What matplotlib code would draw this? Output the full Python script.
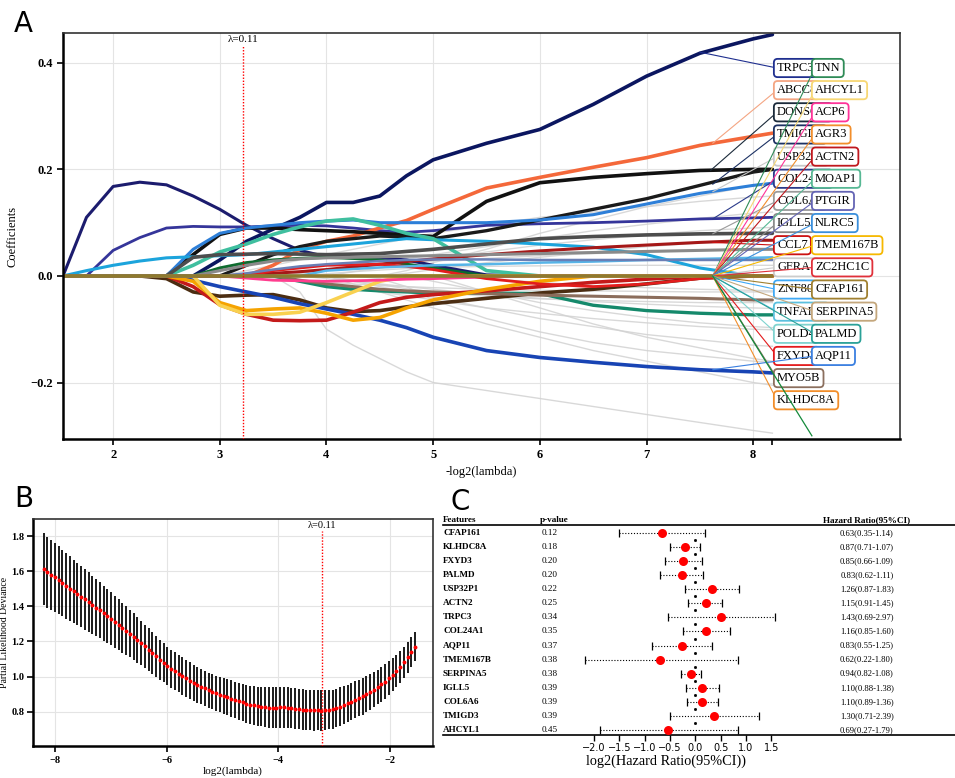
import matplotlib
matplotlib.use('Agg')
import matplotlib.pyplot as plt
import numpy as np

plt.rcParams['font.family'] = ['Liberation Serif', 'DejaVu Serif']

FIG_W, FIG_H = 955, 778

# ---------------- Panel A: LASSO coefficient paths ----------------
path_x = [1.53, 1.75, 2.0, 2.25, 2.5, 2.75, 3.0, 3.25, 3.5, 3.75, 4.0,
          4.25, 4.5, 4.75, 5.0, 5.5, 6.0, 6.5, 7.0, 7.5, 8.0, 8.18]

# faint background paths (genes without label)
path_gray = [
    [0, 0, 0, 0, 0, 0, 0, 0.010, 0.020, 0.030, 0.040, 0.050, 0.060, 0.070, 0.080, 0.095, 0.110, 0.120, 0.130, 0.140, 0.148, 0.150],
    [0, 0, 0, 0, 0, 0, 0, 0, 0, 0.005, 0.010, 0.018, 0.025, 0.032, 0.040, 0.055, 0.070, 0.085, 0.097, 0.108, 0.118, 0.120],
    [0, 0, 0, 0, 0, 0, 0, 0, 0, -0.030, -0.100, -0.130, -0.155, -0.180, -0.200, -0.215, -0.230, -0.245, -0.260, -0.275, -0.290, -0.295],
    [0, 0, 0, 0, 0, 0, 0, 0, 0, 0, 0, -0.015, -0.030, -0.045, -0.060, -0.090, -0.115, -0.140, -0.160, -0.180, -0.200, -0.205],
    [0, 0, 0, 0, 0, 0, 0, 0, 0, 0, 0, -0.010, -0.020, -0.030, -0.040, -0.060, -0.080, -0.095, -0.110, -0.120, -0.130, -0.132],
    [0, 0, 0, 0, 0, 0, 0, 0, 0, -0.008, -0.015, -0.022, -0.030, -0.037, -0.045, -0.060, -0.070, -0.080, -0.088, -0.095, -0.100, -0.101],
    [0, 0, 0, 0, 0, 0, 0, 0, 0, 0, -0.005, -0.010, -0.015, -0.020, -0.025, -0.035, -0.042, -0.048, -0.053, -0.057, -0.060, -0.061],
    [0, 0, 0, 0, 0, 0, 0, 0, -0.004, -0.008, -0.012, -0.015, -0.018, -0.020, -0.022, -0.025, -0.027, -0.028, -0.029, -0.030, -0.030, -0.030],
    [0, 0, 0, 0, 0, 0, 0, 0, 0, 0.005, 0.010, 0.015, 0.020, 0.025, 0.028, 0.033, 0.038, 0.042, 0.045, 0.048, 0.050, 0.050],
    [0, 0, 0, 0, 0, 0, 0, 0, 0, 0, 0, 0.008, 0.015, 0.022, 0.030, 0.045, 0.058, 0.068, 0.077, 0.085, 0.090, 0.091],
    [0, 0, 0, 0, 0, 0, 0, 0, 0, 0, 0, 0, 0, 0, 0, -0.030, -0.060, -0.090, -0.115, -0.135, -0.155, -0.160],
    [0, 0, 0, 0, 0, 0, 0, 0, 0, 0, 0.004, 0.008, 0.011, 0.014, 0.016, 0.018, 0.019, 0.020, 0.020, 0.020, 0.020, 0.020],
    [0, 0, 0, 0, 0, 0, 0, 0, 0, 0, 0, -0.008, -0.016, -0.024, -0.030, -0.038, -0.043, -0.046, -0.048, -0.050, -0.050, -0.050],
    [0, 0, 0, 0, 0, 0, 0, 0, 0, 0, 0, 0, 0, 0.010, 0.025, 0.050, 0.080, 0.105, 0.130, 0.150, 0.170, 0.175],
    [0, 0, 0, 0, 0, 0, 0, 0, 0, 0, 0, 0, 0, 0, -0.010, -0.030, -0.050, -0.065, -0.078, -0.088, -0.095, -0.097],
    [0, 0, 0, 0, 0, 0, 0, 0, 0, 0, 0, 0, -0.005, -0.020, -0.045, -0.080, -0.105, -0.125, -0.140, -0.150, -0.160, -0.162],
    [0, 0, 0, 0, 0, 0, 0, 0, 0, 0, 0, 0, 0, 0, 0, -0.005, -0.012, -0.018, -0.022, -0.025, -0.027, -0.028],
    [0, 0, 0, 0, 0, 0, 0, 0, 0, 0, 0, 0, 0, 0.005, 0.012, 0.025, 0.035, 0.045, 0.055, 0.062, 0.066, 0.067],
]

# highlighted paths
path_coef = [
    [0, 0.110, 0.168, 0.176, 0.171, 0.150, 0.125, 0.095, 0.070, 0.048, 0.036, 0.034, 0.034, 0.030, 0.020, 0.002, 0, 0, 0, 0, 0, 0],
    [0, 0, 0, 0, 0, 0, 0.030, 0.065, 0.088, 0.110, 0.138, 0.138, 0.150, 0.188, 0.218, 0.249, 0.275, 0.322, 0.375, 0.418, 0.445, 0.453],
    [0, 0, 0.048, 0.072, 0.090, 0.093, 0.092, 0.092, 0.094, 0.095, 0.094, 0.090, 0.085, 0.082, 0.085, 0.095, 0.098, 0.100, 0.103, 0.107, 0.109, 0.110],
    [0, 0, 0, 0, 0, 0, 0, 0, 0.020, 0.050, 0.065, 0.075, 0.090, 0.104, 0.125, 0.165, 0.185, 0.204, 0.222, 0.245, 0.262, 0.268],
    [0, 0, 0, 0, 0, 0.040, 0.078, 0.090, 0.090, 0.087, 0.085, 0.083, 0.080, 0.077, 0.074, 0.140, 0.175, 0.185, 0.192, 0.198, 0.200, 0.200],
    [0, 0, 0, 0, 0, 0, 0, 0.020, 0.040, 0.055, 0.065, 0.070, 0.075, 0.073, 0.070, 0.085, 0.105, 0.125, 0.145, 0.170, 0.195, 0.200],
    [0, 0, 0, 0, 0, 0.050, 0.080, 0.090, 0.095, 0.100, 0.103, 0.105, 0.100, 0.100, 0.100, 0.100, 0.105, 0.115, 0.135, 0.155, 0.170, 0.174],
    [0, 0.010, 0.020, 0.028, 0.034, 0.036, 0.038, 0.040, 0.045, 0.050, 0.055, 0.060, 0.065, 0.070, 0.068, 0.065, 0.060, 0.054, 0.040, 0.015, 0, 0],
    [0, 0, 0, 0, 0, 0.020, 0.045, 0.060, 0.078, 0.092, 0.103, 0.107, 0.095, 0.080, 0.070, 0.010, 0, 0, 0, 0, 0, 0],
    [0, 0, 0, 0, 0, 0, 0, 0, 0, -0.010, -0.020, -0.025, -0.028, -0.030, -0.032, -0.032, -0.033, -0.055, -0.065, -0.070, -0.073, -0.073],
    [0, 0, 0, 0, 0, 0, 0.015, 0.025, 0.030, 0.033, 0.035, 0.033, 0.030, 0.022, 0.015, 0, 0, 0, 0, 0, 0, 0],
    [0, 0, 0, 0, -0.005, -0.030, -0.038, -0.036, -0.035, -0.045, -0.060, -0.067, -0.065, -0.058, -0.052, -0.042, -0.032, -0.025, -0.015, -0.004, 0, 0],
    [0, 0, 0, 0, 0, 0, 0, 0, 0, -0.008, -0.015, -0.020, -0.025, -0.028, -0.030, -0.033, -0.036, -0.038, -0.040, -0.042, -0.045, -0.045],
    [0, 0, 0, 0, 0, -0.008, -0.020, -0.030, -0.040, -0.052, -0.062, -0.072, -0.083, -0.097, -0.115, -0.140, -0.153, -0.162, -0.170, -0.176, -0.180, -0.182],
    [0, 0, 0, 0, 0, -0.020, -0.054, -0.072, -0.083, -0.084, -0.083, -0.068, -0.050, -0.040, -0.035, -0.028, -0.020, -0.012, -0.006, 0, 0, 0],
    [0, 0, 0, 0, 0, -0.010, -0.050, -0.065, -0.062, -0.060, -0.070, -0.083, -0.078, -0.060, -0.045, -0.025, -0.010, 0, 0, 0, 0, 0],
    [0, 0, 0, 0, 0, 0, -0.055, -0.072, -0.072, -0.068, -0.050, -0.030, -0.010, 0, 0, 0, 0, 0, 0, 0, 0, 0],
    [0, 0, 0, 0, 0, 0, 0, 0.002, 0.005, 0.008, 0.012, 0.017, 0.022, 0.027, 0.032, 0.040, 0.047, 0.053, 0.058, 0.063, 0.067, 0.067],
    [0, 0, 0, 0, 0, 0.035, 0.040, 0.041, 0.042, 0.041, 0.040, 0.041, 0.042, 0.046, 0.050, 0.060, 0.070, 0.074, 0.077, 0.079, 0.080, 0.080],
    [0, 0, 0, 0, 0, 0, 0, -0.004, -0.008, -0.009, -0.010, -0.009, -0.008, -0.006, -0.005, -0.002, 0, 0, 0, 0, 0, 0],
    [0, 0, 0, 0, 0, 0, 0, 0, 0.010, 0.015, 0.020, 0.021, 0.022, 0.018, 0.012, -0.005, -0.015, -0.020, -0.015, -0.005, 0, 0],
    [0, 0, 0, 0, 0, 0, 0, 0, 0, 0, 0.010, 0.013, 0.016, 0.018, 0.020, 0.022, 0.025, 0.027, 0.030, 0.032, 0.034, 0.035],
    [0, 0, 0, 0, 0, 0, 0, 0.005, 0.012, 0.018, 0.022, 0.025, 0.028, 0.030, 0.031, 0.031, 0.030, 0.030, 0.030, 0.030, 0.030, 0.030],
    [0, 0, 0, 0, 0, 0, 0.010, 0.020, 0.028, 0.032, 0.034, 0.035, 0.036, 0.037, 0.038, 0.040, 0.042, 0.044, 0.046, 0.048, 0.050, 0.050],
    [0, 0, 0, 0, 0, 0, 0, 0, 0, 0, 0, 0, 0, 0, 0, 0, 0, 0, 0, 0, 0, 0],
]
path_colors = ['#1c1c6e', '#0b1660', '#35359a', '#f4683a', '#111111', '#1a1a1a',
               '#2d7fd8', '#1ca4dc', '#3fbf9f', '#15896b', '#0e6b2e', '#4b2d12',
               '#8b6d5c', '#1844b4', '#c41a1a', '#f5a300', '#f9d150', '#a51818',
               '#4d4d4d', '#ff3d8e', '#e31d1d', '#57b5e8', '#6a7fb5', '#8a8a8a',
               '#8e7a2e']
path_widths = [2.2, 2.6, 2.0, 2.6, 2.6, 2.4, 2.2, 2.2, 2.6, 2.4, 2.2, 2.6,
               2.2, 2.6, 2.6, 2.6, 2.6, 2.2, 2.6, 2.0, 2.0, 1.8, 1.8, 2.2, 2.6]

lambda_label = 'λ=0.11'
lambda_pos = 3.22          # -log2(lambda) of the selected lambda

# labels on the right of panel A
label_left = ['TRPC3', 'ABCC8', 'DONSON', 'TMIGD3', 'USP32P1', 'COL24A1', 'COL6A6',
              'IGLL5', 'CCL7', 'GFRA1', 'ZNF80', 'TNFAIP8', 'POLD4', 'FXYD3',
              'MYO5B', 'KLHDC8A']
label_left_colors = ['#1f2f8f', '#f4a582', '#1b2a3a', '#1c3163', '#c8c8c8', '#2a3a8a',
                     '#9a9a9a', '#8a8a8a', '#cc1111', '#cccccc', '#3fa9f5', '#5bc0de',
                     '#7fd3cf', '#e31a1c', '#8b6f5e', '#f28e2b']
label_left_from = [(7.50, 0.420), (7.62, 0.249), (7.60, 0.198), (7.62, 0.172),
                   (7.62, 0.158), (7.62, 0.107), (7.62, 0.079), (7.62, 0.0),
                   (7.62, 0.063), (7.62, 0.0), (7.62, 0.0), (7.62, 0.0),
                   (7.62, 0.0), (7.62, 0.0), (7.62, 0.0), (7.62, 0.0)]
label_right = ['TNN', 'AHCYL1', 'ACP6', 'AGR3', 'ACTN2', 'MOAP1', 'PTGIR', 'NLRC5',
               'TMEM167B', 'ZC2HC1C', 'CFAP161', 'SERPINA5', 'PALMD', 'AQP11']
label_right_colors = ['#2e8b57', '#f7d774', '#ff3399', '#f28e2b', '#c0181e', '#57b894',
                      '#6464b4', '#3a8fdc', '#f6b800', '#e0303a', '#a08030', '#c4a77d',
                      '#2aa198', '#3a7fe0']
label_right_from = [(7.62, 0.0)] * 13 + [(7.62, -0.176)]

# ---------------- Panel B: cross-validation curve ----------------
cv_range = (-8.2, -1.55)   # log2(lambda) span of the 100-value grid
cv_mean = [1.610, 1.594, 1.579, 1.565, 1.549, 1.533, 1.517, 1.501, 1.485, 1.470, 1.455,
           1.439, 1.424, 1.408, 1.393, 1.377, 1.361, 1.346, 1.330,
           1.313, 1.296, 1.279, 1.262, 1.245, 1.228, 1.210,
           1.191, 1.172, 1.153, 1.135, 1.116, 1.097, 1.079, 1.060,
           1.045, 1.031, 1.017, 1.003, 0.990, 0.977, 0.965,
           0.954, 0.943, 0.933, 0.923, 0.914, 0.905, 0.897, 0.890,
           0.882, 0.874, 0.867, 0.860, 0.853, 0.846, 0.840,
           0.836, 0.832, 0.829, 0.826, 0.824, 0.823, 0.823,
           0.825, 0.826, 0.824,
           0.821, 0.818, 0.815, 0.812, 0.810,
           0.809, 0.808, 0.808, 0.807, 0.808,
           0.811, 0.815, 0.821,
           0.829, 0.838, 0.848, 0.858, 0.868, 0.877, 0.887,
           0.899, 0.912, 0.926, 0.941, 0.956, 0.972, 0.990,
           1.010, 1.032, 1.056, 1.082, 1.109, 1.138, 1.170]
cv_se = [0.205, 0.202, 0.199, 0.196, 0.193, 0.190, 0.187, 0.184, 0.181, 0.178, 0.175,
         0.172, 0.169, 0.166, 0.163, 0.160, 0.157, 0.154, 0.151, 0.148, 0.145, 0.142,
         0.139, 0.136, 0.133, 0.130, 0.127, 0.124, 0.121, 0.118, 0.116, 0.114, 0.112,
         0.110,
         0.109, 0.108, 0.107, 0.106, 0.105, 0.104, 0.103, 0.102, 0.101, 0.101, 0.100,
         0.100, 0.100, 0.101, 0.102,
         0.103, 0.104, 0.105, 0.106, 0.107, 0.108, 0.109, 0.110, 0.111, 0.112, 0.113,
         0.114, 0.115, 0.115,
         0.116, 0.116, 0.116, 0.116, 0.116, 0.116, 0.116, 0.115, 0.115, 0.115, 0.114,
         0.114, 0.113, 0.112, 0.111, 0.110,
         0.109, 0.108, 0.107, 0.106, 0.105, 0.104, 0.103, 0.102, 0.101, 0.100, 0.099,
         0.098, 0.097, 0.096,
         0.094, 0.092, 0.090, 0.088, 0.087, 0.085, 0.083]
cv_best = -3.22

# ---------------- Panel C: univariate Cox forest ----------------
features = ['CFAP161', 'KLHDC8A', 'FXYD3', 'PALMD', 'USP32P1', 'ACTN2', 'TRPC3',
            'COL24A1', 'AQP11', 'TMEM167B', 'SERPINA5', 'IGLL5', 'COL6A6',
            'TMIGD3', 'AHCYL1']
p_values = ['0.12', '0.18', '0.20', '0.20', '0.22', '0.25', '0.34', '0.35', '0.37',
            '0.38', '0.38', '0.39', '0.39', '0.39', '0.45']
hr = [0.63, 0.87, 0.85, 0.83, 1.26, 1.15, 1.43, 1.16, 0.83, 0.62, 0.94, 1.10, 1.10, 1.30, 0.69]
hr_low = [0.35, 0.71, 0.66, 0.62, 0.87, 0.91, 0.69, 0.85, 0.55, 0.22, 0.82, 0.88, 0.89, 0.71, 0.27]
hr_high = [1.14, 1.07, 1.09, 1.11, 1.83, 1.45, 2.97, 1.60, 1.25, 1.80, 1.08, 1.38, 1.36, 2.39, 1.79]
forest_ticks = [-2.0, -1.5, -1.0, -0.5, 0.0, 0.5, 1.0, 1.5]


def px_rect(left, top, right, bottom):
    """Axes rectangle from pixel edges of the 955x778 canvas."""
    return [left / FIG_W, 1 - bottom / FIG_H, (right - left) / FIG_W, (bottom - top) / FIG_H]


def style_frame(ax):
    for side in ['left', 'bottom']:
        ax.spines[side].set_linewidth(1.8)
        ax.spines[side].set_color('black')
    for side in ['top', 'right']:
        ax.spines[side].set_linewidth(1.2)
        ax.spines[side].set_color('#333333')
    ax.grid(True, color='#e4e4e4', linewidth=0.8)
    ax.set_axisbelow(True)


def plot_paths(ax):
    for row in path_gray:
        ax.plot(path_x, row, color='#d2d2d2', lw=1.0, alpha=0.85, zorder=1)
    for row, c, w in zip(path_coef, path_colors, path_widths):
        ax.plot(path_x, row, color=c, lw=w, zorder=2, solid_capstyle='round')

    top = 0.432
    ax.plot([lambda_pos, lambda_pos], [-0.306, top], color='red', lw=1.0,
            ls=(0, (1, 1.2)), zorder=3)
    ax.text(lambda_pos, top + 0.004, lambda_label, ha='center', va='bottom', fontsize=8)

    # label boxes with leader lines
    row_y = [68 + 22.15 * k for k in range(16)]
    for name, c, src, y in zip(label_left, label_left_colors, label_left_from, row_y):
        ax.annotate(name, xy=src, xycoords='data', xytext=(777, FIG_H - y),
                    textcoords='figure pixels', ha='left', va='center', fontsize=9,
                    bbox=dict(boxstyle='round,pad=0.25,rounding_size=0.3', fc='white', ec=c, lw=1.3),
                    arrowprops=dict(arrowstyle='-', color=c, lw=0.8, shrinkA=0, shrinkB=0,
                                    relpos=(0, 0.5)),
                    zorder=5)
    for name, c, src, y in zip(label_right, label_right_colors, label_right_from, row_y):
        ax.annotate(name, xy=src, xycoords='data', xytext=(815, FIG_H - y),
                    textcoords='figure pixels', ha='left', va='center', fontsize=9,
                    bbox=dict(boxstyle='round,pad=0.25,rounding_size=0.3', fc='white', ec=c, lw=1.3),
                    arrowprops=dict(arrowstyle='-', color=c, lw=0.8, shrinkA=0, shrinkB=0,
                                    relpos=(0, 0.5)),
                    zorder=6)
    # stray leader running below the boxes
    ax.plot([7.62, 8.55], [0.0, -0.300], color='#138a3a', lw=0.9, zorder=6)

    ax.set_xlim(1.53, 9.376)
    ax.set_ylim(-0.306, 0.456)
    ax.set_xticks([2, 3, 4, 5, 6, 7, 8])
    ax.set_xticks([8.18], minor=True)
    ax.set_yticks([-0.2, 0.0, 0.2, 0.4])
    ax.set_yticklabels(['\u22120.2', '0.0', '0.2', '0.4'])
    ax.tick_params(axis='both', labelsize=9, width=1.2, length=4)
    ax.tick_params(axis='x', which='minor', width=1.2, length=4)
    for lab in ax.get_xticklabels() + ax.get_yticklabels():
        lab.set_fontweight('bold')
    ax.set_xlabel('-log2(lambda)', fontsize=9, labelpad=3)
    ax.set_ylabel('Coefficients', fontsize=9, labelpad=8)
    style_frame(ax)


def plot_cv(ax):
    x = np.linspace(cv_range[0], cv_range[1], len(cv_mean))
    ax.errorbar(x, cv_mean, yerr=cv_se, fmt='o', color='red', ms=2.8, mew=0,
                ecolor='black', elinewidth=1.25, capsize=1.4, capthick=0.9, zorder=3)
    ax.plot([cv_best, cv_best], [0.605, 1.83], color='red', lw=1.0,
            ls=(0, (1, 1.2)), zorder=4)
    ax.text(cv_best, 1.835, lambda_label, ha='center', va='bottom', fontsize=7.5)
    ax.set_xlim(-8.39, -1.23)
    ax.set_ylim(0.605, 1.897)
    ax.set_xticks([-8, -6, -4, -2])
    ax.set_xticklabels(['\u22128', '\u22126', '\u22124', '\u22122'])
    ax.set_yticks([0.8, 1.0, 1.2, 1.4, 1.6, 1.8])
    ax.set_yticklabels(['0.8', '1.0', '1.2', '1.4', '1.6', '1.8'])
    ax.tick_params(axis='both', labelsize=7.5, width=1.2, length=4)
    ax.tick_params(axis='y', pad=2)
    for lab in ax.get_xticklabels() + ax.get_yticklabels():
        lab.set_fontweight('bold')
    ax.set_xlabel('log2(lambda)', fontsize=8, labelpad=1)
    ax.set_ylabel('Partial Likelihood Deviance', fontsize=7, labelpad=2)
    style_frame(ax)


def plot_forest(ax):
    rows = np.arange(len(features))
    est = np.log2(hr)
    lo = np.log2(hr_low)
    hi = np.log2(hr_high)
    ax.hlines(rows, lo, hi, color='black', lw=0.8, linestyles=(0, (1, 1.6)), zorder=2)
    ax.plot(lo, rows, ls='none', marker='|', ms=6, mew=0.9, color='black', zorder=2)
    ax.plot(hi, rows, ls='none', marker='|', ms=6, mew=0.9, color='black', zorder=2)
    ax.plot(np.zeros(len(rows)), rows + 0.5, ls='none', marker='s', ms=1.0,
            color='black', zorder=1)
    ax.plot(est, rows, ls='none', marker='o', ms=6.5, color='red', mew=0, zorder=3)

    tr = ax.get_yaxis_transform()
    for i, name in enumerate(features):
        ax.text(0.0, i, name, transform=tr, ha='left', va='center', fontsize=6.6,
                fontweight='bold')
        ax.text(0.192, i, p_values[i], transform=tr, ha='left', va='center', fontsize=6.6)
        ax.text(0.828, i, f'{hr[i]:.2f}({hr_low[i]:.2f}-{hr_high[i]:.2f})', transform=tr,
                ha='center', va='center', fontsize=6.2)
    ax.text(0.0, 1.004, 'Features', transform=ax.transAxes, ha='left', va='bottom',
            fontsize=6.6, fontweight='bold')
    ax.text(0.190, 1.004, 'p-value', transform=ax.transAxes, ha='left', va='bottom',
            fontsize=6.6, fontweight='bold')
    ax.text(0.828, 1.004, 'Hazard Ratio(95%CI)', transform=ax.transAxes, ha='center',
            va='bottom', fontsize=6.6, fontweight='bold')

    ax.set_xlim(-4.984, 5.13)
    ax.set_ylim(14.36, -0.57)
    ax.set_yticks([])
    ax.set_xticks(forest_ticks)
    ax.set_xticklabels([f'{t:.1f}'.replace('-', '\u2212') for t in forest_ticks],
                       family='DejaVu Sans', fontsize=7)
    ax.tick_params(axis='x', width=1.0, length=4, pad=2)
    for side in ['left', 'right']:
        ax.spines[side].set_visible(False)
    for side in ['top', 'bottom']:
        ax.spines[side].set_linewidth(1.2)
    ax.text(0.4355, -0.125, 'log2(Hazard Ratio(95%CI))', transform=ax.transAxes,
            ha='center', va='center', fontsize=10.3)


fig = plt.figure(figsize=(FIG_W / 100, FIG_H / 100), dpi=100)
ax_a = fig.add_axes(px_rect(63, 33, 900, 439))
ax_b = fig.add_axes(px_rect(33, 519, 433, 746))
ax_c = fig.add_axes(px_rect(443, 525, 955, 735))

plot_paths(ax_a)
plot_cv(ax_b)
plot_forest(ax_c)

for letter, x, y in [('A', 14, 10), ('B', 14, 485), ('C', 450, 488)]:
    fig.text(x / FIG_W, 1 - y / FIG_H, letter, family='DejaVu Sans', fontsize=20,
             ha='left', va='top')

fig.savefig('out.png', dpi=100)
